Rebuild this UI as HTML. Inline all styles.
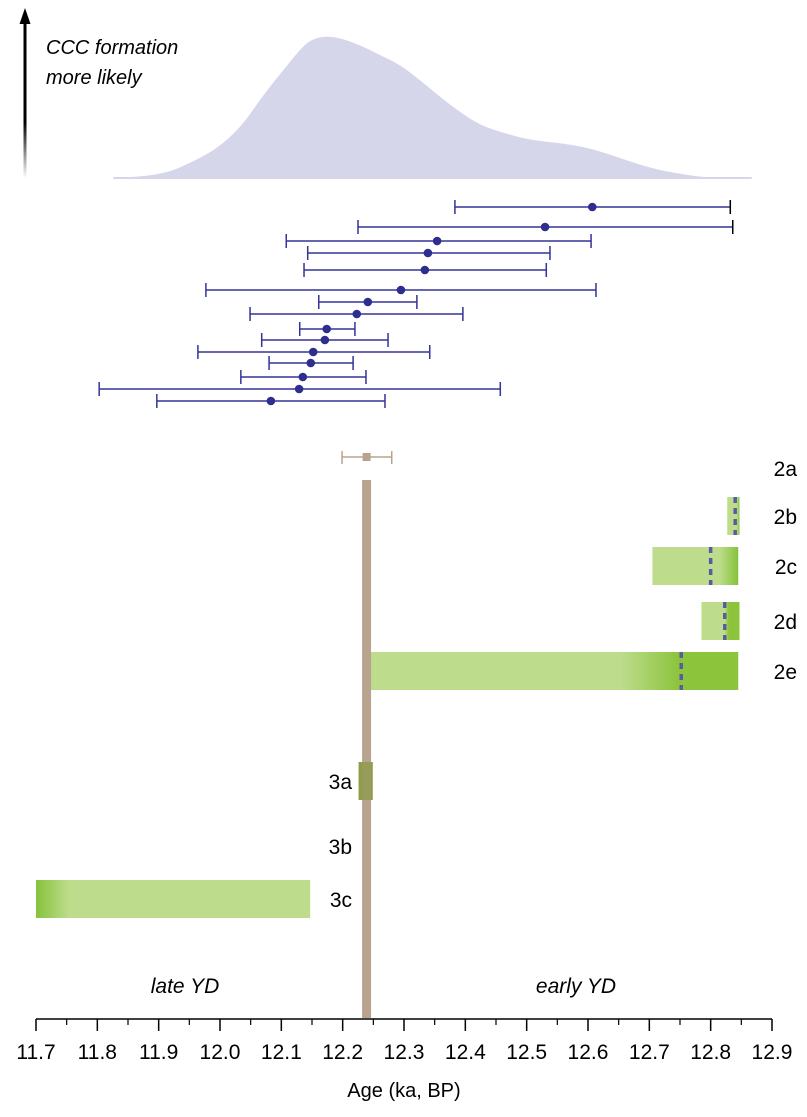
<!DOCTYPE html>
<html><head><meta charset="utf-8"><style>
body{margin:0;background:#fff;}
svg{display:block;font-family:"Liberation Sans",Arial,sans-serif;}
</style></head><body>
<svg id="chart" width="807" height="1117" viewBox="0 0 807 1117">
<defs>
<linearGradient id="arrowGrad" x1="0" y1="1" x2="0" y2="0"><stop offset="0" stop-color="#fff"/><stop offset="0.35" stop-color="#000"/><stop offset="1" stop-color="#000"/></linearGradient>
<linearGradient id="g2c" x1="0" x2="1"><stop offset="0" stop-color="#bddc8c"/><stop offset="0.78" stop-color="#bddc8c"/><stop offset="1" stop-color="#86c23a"/></linearGradient>
<linearGradient id="g2d" x1="0" x2="1"><stop offset="0" stop-color="#bddc8c"/><stop offset="0.6" stop-color="#bddc8c"/><stop offset="0.72" stop-color="#8cc43c"/><stop offset="1" stop-color="#8cc43c"/></linearGradient>
<linearGradient id="g2e" x1="0" x2="1"><stop offset="0" stop-color="#bddc8c"/><stop offset="0.68" stop-color="#bddc8c"/><stop offset="0.84" stop-color="#8cc43c"/><stop offset="1" stop-color="#8cc43c"/></linearGradient>
<linearGradient id="g3c" x1="0" x2="1"><stop offset="0" stop-color="#86c23a"/><stop offset="0.12" stop-color="#bddc8c"/><stop offset="1" stop-color="#bddc8c"/></linearGradient>
</defs>
<g id="density"></g>
<g>
<rect x="23.5" y="20" width="3" height="158" fill="url(#arrowGrad)"/>
<polygon points="25,8 19.5,24 30.5,24" fill="#000"/>
</g>
<text x="46" y="54" font-size="20" font-style="italic">CCC formation</text>
<text x="46" y="84" font-size="20" font-style="italic">more likely</text>
<g id="errbars"></g>
<g id="bars"></g>
<g id="axis"></g>
<text x="185" y="993" font-size="21" font-style="italic" text-anchor="middle">late YD</text>
<text x="576" y="993" font-size="21" font-style="italic" text-anchor="middle">early YD</text>
<text x="404" y="1097" font-size="20" text-anchor="middle">Age (ka, BP)</text>
</svg>
<script>
const densAges=[11.826,11.870,11.918,11.951,11.992,12.033,12.065,12.090,12.114,12.130,12.147,12.171,12.196,12.228,12.261,12.294,12.326,12.359,12.391,12.424,12.457,12.505,12.554,12.603,12.652,12.701,12.750,12.799,12.867];
const densVals=[0,1,6,15,28,50,78,98,116,128,138,142,140,133,123,113,98,81,66,53,46,38,35,30,20,10,4,0,0];
const errCenter=[12.607,12.530,12.354,12.339,12.334,12.295,12.241,12.223,12.174,12.171,12.152,12.148,12.135,12.129,12.083];
const errLo=[12.383,12.225,12.108,12.143,12.137,11.977,12.161,12.049,12.130,12.068,11.964,12.080,12.034,11.803,11.897];
const errHi=[12.832,12.836,12.605,12.538,12.532,12.613,12.321,12.396,12.220,12.274,12.342,12.217,12.238,12.457,12.269];
const errRows=[207,227,241,253,270,290,302,314,329,340,352,363,377,389,401];
const refAge=12.239, refLo=12.199, refHi=12.280;
const barLabels=["2a","2b","2c","2d","2e","3a","3b","3c"];
const barStart=[null,12.827,12.705,12.785,12.246,12.226,null,11.700];
const barEnd=[null,12.847,12.845,12.847,12.845,12.249,null,12.147];
const barMean=[null,12.840,12.800,12.823,12.752,null,null,null];
const ticks=[11.7,11.8,11.9,12.0,12.1,12.2,12.3,12.4,12.5,12.6,12.7,12.8,12.9];
const tickLabels=["11.7","11.8","11.9","12.0","12.1","12.2","12.3","12.4","12.5","12.6","12.7","12.8","12.9"];

const NS="http://www.w3.org/2000/svg";
const X=v=>36+(v-11.7)*613.33;
const DY=d=>178-d;
function mk(tag,attrs,parent){const e=document.createElementNS(NS,tag);for(const k in attrs)e.setAttribute(k,attrs[k]);parent.appendChild(e);return e;}

// density (smoothed with quadratic midpoints)
const dg=document.getElementById('density');
const pts=densAges.map((a,i)=>[X(a),DY(densVals[i])]);
let d="M"+pts[0][0]+","+pts[0][1];
for(let i=1;i<pts.length-1;i++){
  const mx=(pts[i][0]+pts[i+1][0])/2, my=(pts[i][1]+pts[i+1][1])/2;
  d+=" Q"+pts[i][0].toFixed(1)+","+pts[i][1].toFixed(1)+" "+mx.toFixed(1)+","+my.toFixed(1);
}
d+=" L"+pts[pts.length-1][0]+","+pts[pts.length-1][1]+" Z";
const dp=mk('path',{d:d,fill:'#d6d6ea'},dg);


mk('line',{x1:pts[0][0],x2:pts[pts.length-1][0],y1:178,y2:178,stroke:'#d6d6ea','stroke-width':2},dg);

// error bars
const eg=document.getElementById('errbars');
errCenter.forEach((c,i)=>{
  const y=errRows[i];
  const g=mk('g',{},eg);
  
  
  mk('line',{x1:X(errLo[i]),x2:X(errHi[i]),y1:y,y2:y,stroke:'#333399','stroke-width':1.5},g);
  mk('line',{x1:X(errLo[i]),x2:X(errLo[i]),y1:y-7,y2:y+7,stroke:'#333399','stroke-width':1.5},g);
  mk('line',{x1:X(errHi[i]),x2:X(errHi[i]),y1:y-7,y2:y+7,stroke:i<2?'#000':'#333399','stroke-width':1.5},g);
  mk('circle',{cx:X(c),cy:y,r:4.3,fill:'#2e2e8f'},g);
});

// bars
const bg=document.getElementById('bars');
const rowY=[468,516,566,621,671,781,846,899];
const fills=[null,'url(#g2c)','url(#g2c)','url(#g2d)','url(#g2e)','#9aa657',null,'url(#g3c)'];
barLabels.forEach((lab,i)=>{
  const y=rowY[i];
  if(barStart[i]!==null){
    const r=mk('rect',{x:X(barStart[i]),y:y-19,width:X(barEnd[i])-X(barStart[i]),height:38,fill:fills[i]},bg);
    
    
  }
  if(barMean[i]!==null){
    const l=mk('line',{x1:X(barMean[i]),x2:X(barMean[i]),y1:y-19,y2:y+19,stroke:'#5a5aa0','stroke-width':3.5,'stroke-dasharray':'6,5'},bg);
    
    
  }
  const left=i>=5;
  const t=mk('text',{x:left?352:797,y:y+8,'font-size':21,'text-anchor':'end'},bg);
  t.textContent=lab;
  
  
});
// reference
const rg=mk('g',{},bg);


mk('rect',{x:X(refAge)-4.5,y:480,width:9,height:538,fill:'#b8a48e'},rg);
mk('line',{x1:X(refLo),x2:X(refHi),y1:457,y2:457,stroke:'#b8a48e','stroke-width':1.5},rg);
mk('line',{x1:X(refLo),x2:X(refLo),y1:451,y2:464,stroke:'#b8a48e','stroke-width':1.5},rg);
mk('line',{x1:X(refHi),x2:X(refHi),y1:451,y2:464,stroke:'#b8a48e','stroke-width':1.5},rg);
mk('rect',{x:X(refAge)-4,y:453,width:8,height:8,fill:'#b8a48e'},rg);
const r3a=mk('rect',{x:X(barStart[5]),y:rowY[5]-19,width:X(barEnd[5])-X(barStart[5]),height:38,fill:'#8c9a4a',opacity:0.75},bg);



// axis
const ag=document.getElementById('axis');
mk('line',{x1:X(11.7),x2:X(12.9),y1:1019,y2:1019,stroke:'#000','stroke-width':1.5},ag);
ticks.forEach((t,i)=>{
  mk('line',{x1:X(t),x2:X(t),y1:1019,y2:1031,stroke:'#000','stroke-width':1.5},ag);
  if(i<ticks.length-1) mk('line',{x1:X(t+0.05),x2:X(t+0.05),y1:1019,y2:1025,stroke:'#000','stroke-width':1.2},ag);
  const tx=mk('text',{x:X(t),y:1059,'font-size':21,'text-anchor':'middle'},ag);
  tx.textContent=tickLabels[i];
  
  
});
</script>
</body></html>
